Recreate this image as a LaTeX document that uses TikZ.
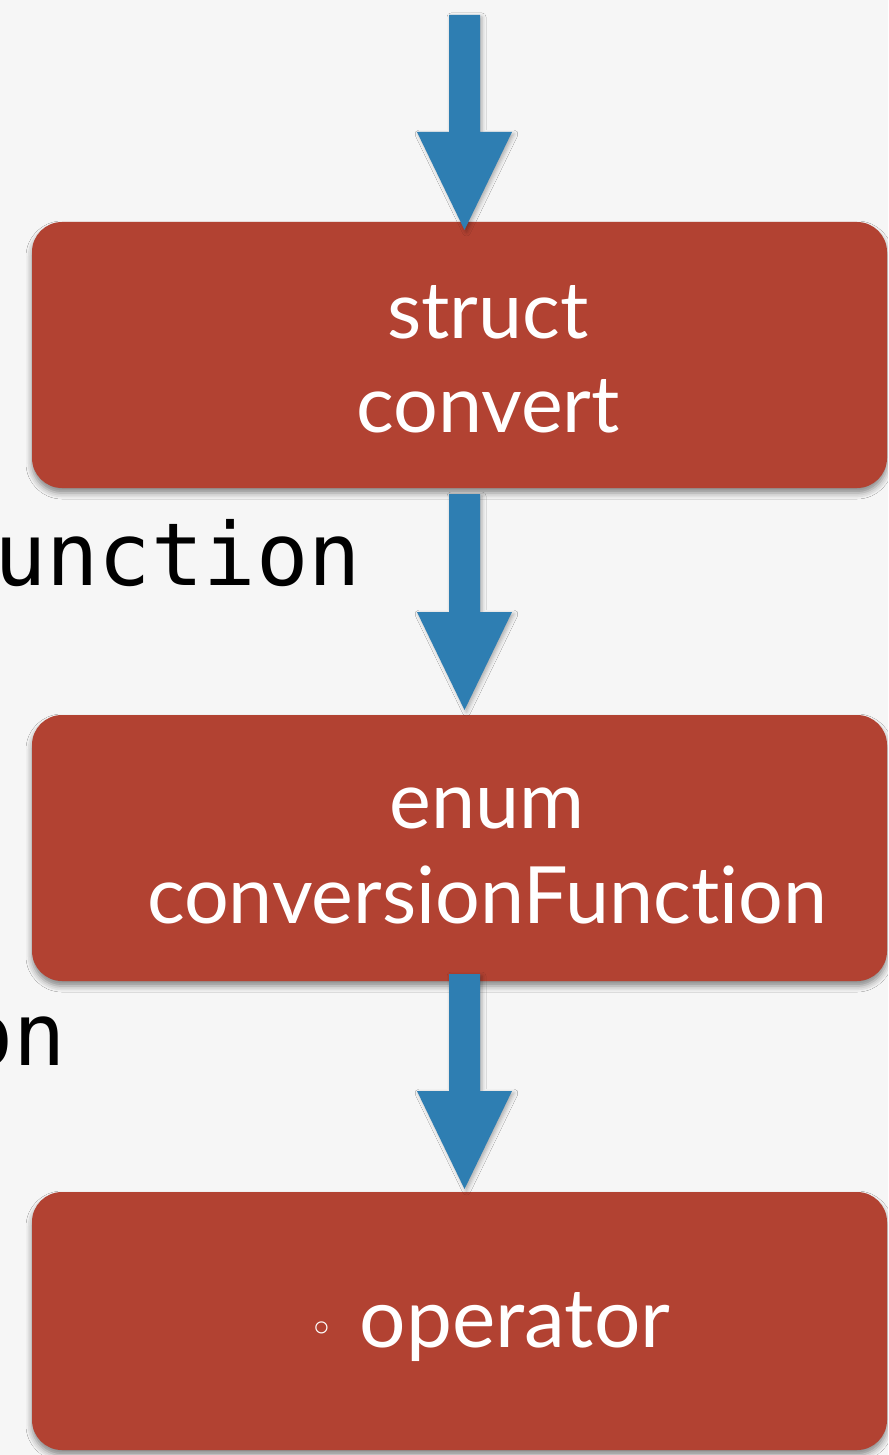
\documentclass[tikz,border=0pt]{standalone}
\usepackage{fontspec}
\setmainfont{Lato}[Ligatures=NoCommon]
\setmonofont{DejaVu Sans Mono}
\newfontfamily\bulletfont{DejaVu Sans}
\usetikzlibrary{calc,shadows.blur}
\definecolor{bg}{RGB}{246,246,246}
\definecolor{boxred}{RGB}{178,66,50}
\definecolor{arrowblue}{RGB}{46,126,178}
\tikzset{
  box/.style={rectangle, rounded corners=30pt, fill=boxred, minimum width=855pt,
    minimum height=266pt, inner sep=0pt,
    blur shadow={shadow xshift=0pt, shadow yshift=-5pt, shadow blur radius=6pt, shadow opacity=45}},
  boxtext/.style={text=white, font=\fontsize{79}{94}\selectfont, inner sep=0pt, anchor=base},
  codetext/.style={text=black, font=\ttfamily\fontsize{87}{100}\selectfont, inner sep=0pt, anchor=base east},
  blockarrow/.style={fill=arrowblue,
    blur shadow={shadow xshift=2pt, shadow yshift=-2pt, shadow blur radius=4pt, shadow opacity=30}},
}
\newcommand\blockarr[2]{%
  \fill[blockarrow] let \p1=(#1), \p2=(#2) in
    (\x1-15.5pt,\y1) -- (\x1+15.5pt,\y1) -- (\x1+15.5pt,\y2+98pt) -- (\x1+47.5pt,\y2+98pt)
    -- (\x2,\y2) -- (\x1-47.5pt,\y2+98pt) -- (\x1-15.5pt,\y2+98pt) -- cycle;}
\begin{document}
\begin{tikzpicture}[x=1pt,y=-1pt]
  \useasboundingbox (0,0) rectangle (888,1455);
  \clip (0,0) rectangle (888,1455);
  \fill[bg] (0,0) rectangle (888,1455);

  % partial code text at left edge
  \node[codetext] (frag) at (6,172) {o};
  \node[codetext] (c1) at (361,585) {unction};
  \node[codetext] (c2) at (66,1065) {on};

  % boxes
  \node[box] (b1) at (459.5,355) {};
  \node[box] (b2) at (459.5,848) {};
  \node[box, minimum height=258pt] (b3) at (459.5,1321) {};

  % box texts
  \node[boxtext] (t1a) at (488,338) {struct};
  \node[boxtext] (t1b) at (488,432) {convert};
  \node[boxtext] (t2a) at (487,828) {enum};
  \node[boxtext] (t2b) at (487,923) {conversionFunction};
  \node[boxtext, font=\fontsize{82}{94}\selectfont] (t3) at (515,1347) {operator};
  \node[text=white, font=\bulletfont\fontsize{42}{44}\selectfont, inner sep=0pt] (bul) at (322,1333) {◦};

  % arrow end points
  \coordinate (a0s) at (464.5,15);
  \coordinate (a0e) at (464.5,230);
  \coordinate (a1s) at (464.5,494);
  \coordinate (a1e) at (464.5,710);
  \coordinate (a2s) at (464.5,974);
  \coordinate (a2e) at (464.5,1189);
  \blockarr{a0s}{a0e}
  \blockarr{a1s}{a1e}
  \blockarr{a2s}{a2e}
\end{tikzpicture}
\end{document}
